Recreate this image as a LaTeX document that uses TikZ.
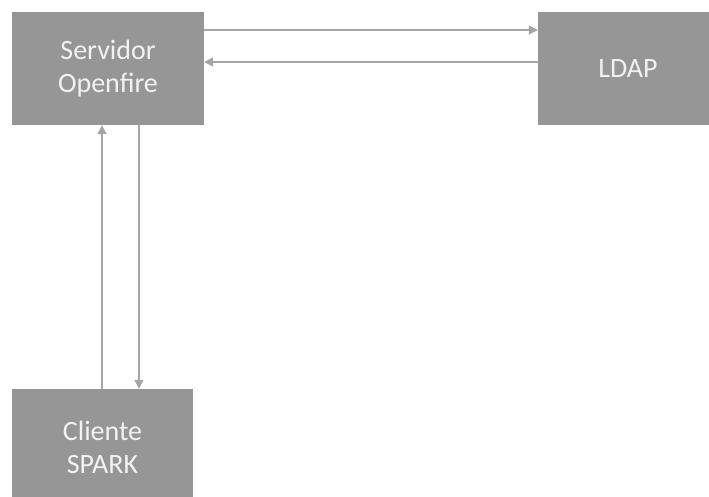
\documentclass[tikz,border=0pt]{standalone}
\usepackage{fontspec}
\setmainfont{Carlito}
\usetikzlibrary{arrows.meta}
\definecolor{boxgray}{RGB}{150,150,150}
\definecolor{linegray}{RGB}{165,165,165}
\definecolor{textwhite}{RGB}{242,242,242}
\tikzset{
  blockbox/.style={rectangle, fill=boxgray, draw=none, inner sep=0pt,
    text=textwhite, align=center, font=\fontsize{28}{33}\selectfont},
  arr/.style={draw=linegray, line width=1.3pt, -{Triangle[length=9pt,width=9pt]}}
}
\begin{document}
\begin{tikzpicture}[x=1pt,y=-1pt]
\useasboundingbox (0,0) rectangle (709,497);
\node[blockbox, minimum width=192pt, minimum height=113pt] (servidor) at (108,68.5) {Servidor\\Openfire};
\node[blockbox, minimum width=180pt, minimum height=113pt] (ldap) at (628,68.5) {LDAP};
\node[blockbox, minimum width=181pt, minimum height=116pt] (cliente) at (102.5,447) {Cliente\\SPARK};
\draw[arr] (servidor.east |- 0,30) -- (ldap.west |- 0,30);
\draw[arr] (ldap.west |- 0,62) -- (servidor.east |- 0,62);
\draw[arr] (cliente.north -| 102,0) -- (servidor.south -| 102,0);
\draw[arr] (servidor.south -| 139,0) -- (cliente.north -| 139,0);
\end{tikzpicture}
\end{document}
